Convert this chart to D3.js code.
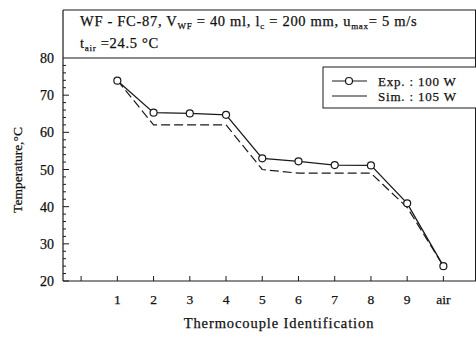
<!DOCTYPE html>
<html>
<head>
<meta charset="utf-8">
<script src="https://cdn.jsdelivr.net/npm/d3@7"></script>
<style>
  body { margin: 0; background: #fff; }
  svg { display: block; font-family: "Liberation Serif", "DejaVu Serif", serif; }
  text { fill: #111; stroke: #111; stroke-width: 0.25; }
</style>
</head>
<body>
<svg id="chart" width="476" height="343"></svg>
<script>
// Thermocouple positions (index 1..10), index 0 is an unlabeled tick
const categories = ["1", "2", "3", "4", "5", "6", "7", "8", "9", "air"];
const expValues = [73.9, 65.3, 65.1, 64.7, 53.0, 52.2, 51.2, 51.1, 40.9, 24.0];
const simValues = [74.0, 62.0, 62.0, 62.0, 50.0, 49.0, 49.0, 49.0, 39.8, 24.0];
const yTicks = [20, 30, 40, 50, 60, 70, 80];

const svg = d3.select("#chart");
const stroke = "#1a1a1a";

const x = d3.scaleLinear().domain([-0.5, 10.9]).range([63, 476]);
const y = d3.scaleLinear().domain([20, 80]).range([281, 58]);

const frameTop = y(80);
const boxTop = 10;

// ── Header box and frame ─────────────────────────────────────────────────────
const g = svg.append("g");
g.append("line").attr("x1", 63).attr("x2", 476).attr("y1", boxTop).attr("y2", boxTop)
  .attr("stroke", stroke).attr("stroke-width", 1.2);
g.append("line").attr("x1", 63).attr("x2", 476).attr("y1", frameTop).attr("y2", frameTop)
  .attr("stroke", stroke).attr("stroke-width", 1.2);
g.append("line").attr("x1", 63).attr("x2", 63).attr("y1", boxTop).attr("y2", y(20))
  .attr("stroke", stroke).attr("stroke-width", 1.2);
g.append("line").attr("x1", 63).attr("x2", 476).attr("y1", y(20)).attr("y2", y(20))
  .attr("stroke", stroke).attr("stroke-width", 1.2);
g.append("line").attr("x1", 475.5).attr("x2", 475.5).attr("y1", boxTop).attr("y2", y(20))
  .attr("stroke", stroke).attr("stroke-width", 1);

const h1 = g.append("text").attr("x", 80).attr("y", 26).attr("font-size", 14.5)
  .attr("letter-spacing", 0.7);
h1.append("tspan").text("WF - FC-87, V");
h1.append("tspan").attr("font-size", 9).attr("dy", 3).text("WF");
h1.append("tspan").attr("dy", -3).text(" = 40 ml, l");
h1.append("tspan").attr("font-size", 9).attr("dy", 3).text("c");
h1.append("tspan").attr("dy", -3).text(" = 200 mm, u");
h1.append("tspan").attr("font-size", 9).attr("dy", 3).text("max");
h1.append("tspan").attr("dy", -3).text("= 5 m/s");

const h2 = g.append("text").attr("x", 80).attr("y", 48).attr("font-size", 14.5)
  .attr("letter-spacing", 0.7);
h2.append("tspan").text("t");
h2.append("tspan").attr("font-size", 9).attr("dy", 3).text("air");
h2.append("tspan").attr("dy", -3).text(" =24.5 °C");

// ── Y axis ticks (inward) ────────────────────────────────────────────────────
const minor = d3.range(20, 80, 2);
g.selectAll(".ymin").data(minor).join("line")
  .attr("x1", 63).attr("x2", (d) => (d % 10 === 0 ? 69 : 66))
  .attr("y1", (d) => y(d)).attr("y2", (d) => y(d))
  .attr("stroke", stroke).attr("stroke-width", 1);
g.selectAll(".ylab").data(yTicks).join("text")
  .attr("x", 54).attr("y", (d) => y(d) + 5)
  .attr("text-anchor", "end").attr("font-size", 14)
  .text((d) => d);

// ── X axis ticks (inward) ────────────────────────────────────────────────────
g.selectAll(".xt").data(d3.range(0, 11)).join("line")
  .attr("x1", (d) => x(d)).attr("x2", (d) => x(d))
  .attr("y1", y(20)).attr("y2", y(20) - 5)
  .attr("stroke", stroke).attr("stroke-width", 1);
g.selectAll(".xlab").data(categories).join("text")
  .attr("x", (d, i) => x(i + 1)).attr("y", 304)
  .attr("text-anchor", "middle").attr("font-size", 13.5)
  .text((d) => d);

// ── Axis titles ──────────────────────────────────────────────────────────────
g.append("text").attr("x", 279).attr("y", 328).attr("text-anchor", "middle")
  .attr("font-size", 14.5).attr("letter-spacing", 0.9).text("Thermocouple Identification");
g.append("text").attr("transform", "translate(22,170) rotate(-90)")
  .attr("text-anchor", "middle").attr("font-size", 13.5).text("Temperature,°C");

// ── Series ───────────────────────────────────────────────────────────────────
const line = d3.line().x((d, i) => x(i + 1)).y((d) => y(d));
g.append("path").datum(simValues).attr("d", line)
  .attr("fill", "none").attr("stroke", stroke).attr("stroke-width", 1.2)
  .attr("stroke-dasharray", "9,4");
g.append("path").datum(expValues).attr("d", line)
  .attr("fill", "none").attr("stroke", stroke).attr("stroke-width", 1.3);
g.selectAll(".pt").data(expValues).join("circle")
  .attr("cx", (d, i) => x(i + 1)).attr("cy", (d) => y(d)).attr("r", 3.5)
  .attr("fill", "#fff").attr("stroke", stroke).attr("stroke-width", 1.2);

// ── Legend ───────────────────────────────────────────────────────────────────
const lg = g.append("g");
lg.append("rect").attr("x", 323).attr("y", 67).attr("width", 160).attr("height", 41)
  .attr("fill", "#fff").attr("stroke", stroke).attr("stroke-width", 1);
lg.append("line").attr("x1", 332).attr("x2", 367).attr("y1", 81).attr("y2", 81)
  .attr("stroke", stroke).attr("stroke-width", 1.2);
lg.append("circle").attr("cx", 349).attr("cy", 81).attr("r", 3.5)
  .attr("fill", "#fff").attr("stroke", stroke).attr("stroke-width", 1.2);
lg.append("line").attr("x1", 332).attr("x2", 367).attr("y1", 96).attr("y2", 96)
  .attr("stroke", stroke).attr("stroke-width", 1.2);
lg.append("text").attr("x", 378).attr("y", 85.5).attr("font-size", 13)
  .attr("letter-spacing", 0.8).text("Exp. : 100 W");
lg.append("text").attr("x", 378).attr("y", 100.5).attr("font-size", 13)
  .attr("letter-spacing", 0.8).text("Sim. : 105 W");
</script>
</body>
</html>
